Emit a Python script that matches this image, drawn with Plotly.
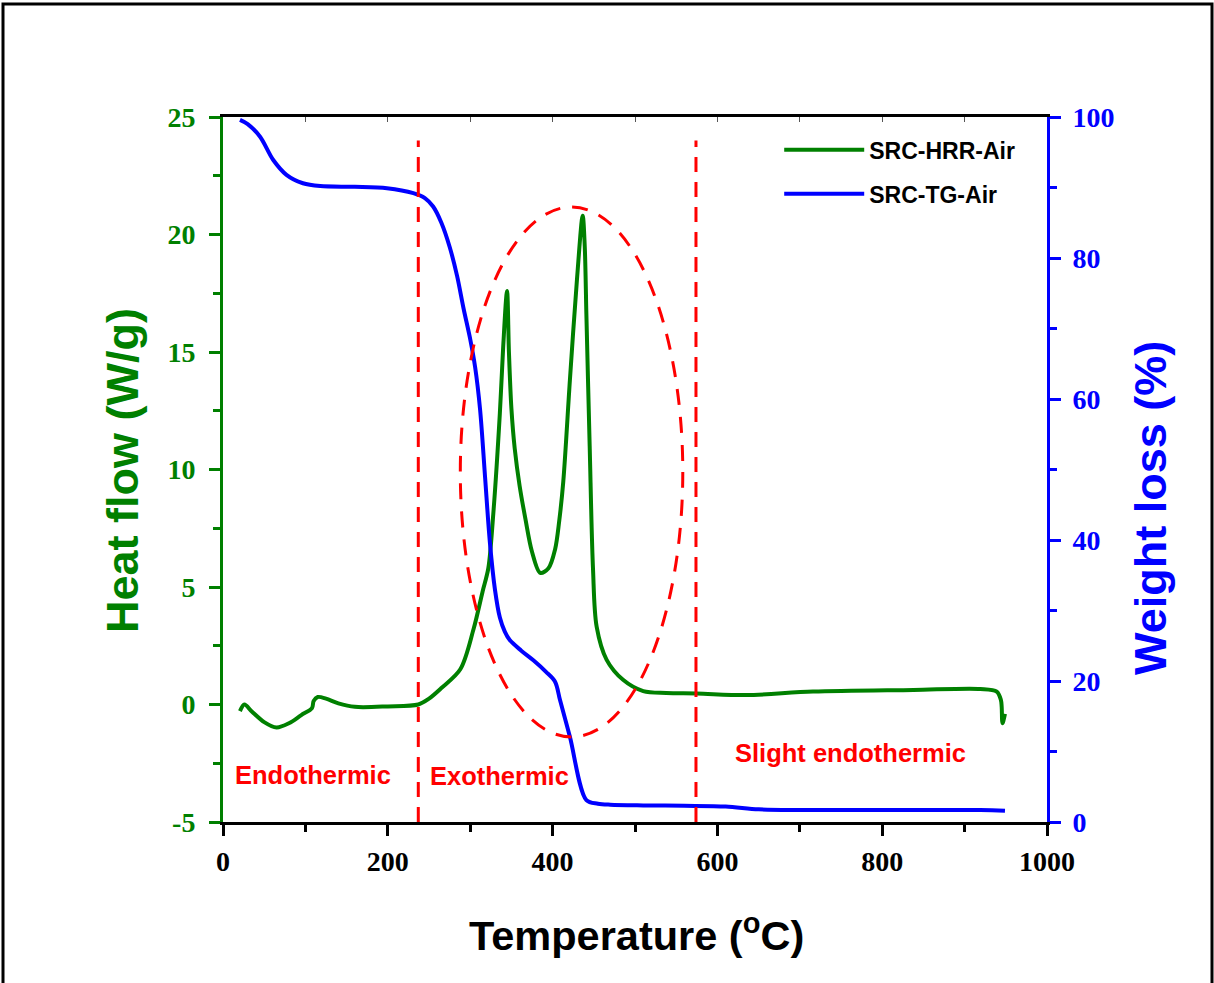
import plotly.graph_objects as go

# ---- data ----
temp_hrr = [20.6, 26, 35, 50, 65, 80, 95, 108, 110, 115, 125, 140, 160, 200, 237, 250, 265,
            288, 304, 315, 322, 328, 336, 340, 344.7, 347, 350, 354, 360, 367, 375, 385, 395,
            403, 408, 413, 421, 429.6, 436.5, 439, 441, 445, 449, 453.5, 465.6, 485.5, 510, 538,
            575, 635, 716, 838, 919, 939, 944, 945, 946, 949]
heat_flow = [-0.28, 0.0, -0.3, -0.75, -0.98, -0.8, -0.45, -0.15, 0.15, 0.32, 0.25, 0.05, -0.1,
             -0.08, 0.0, 0.25, 0.7, 1.5, 3.2, 4.8, 5.8, 8.1, 12.4, 15.2, 17.6, 15.0, 12.6,
             10.9, 9.3, 7.9, 6.5, 5.6, 5.8, 6.6, 7.8, 9.5, 13.8, 18.1, 20.8, 19.5, 16.6, 11.0,
             5.8, 3.3, 1.9, 1.05, 0.57, 0.49, 0.47, 0.40, 0.55, 0.62, 0.66, 0.55, 0.2, -0.1,
             -0.8, -0.4]

temp_tg = [20.6, 30, 45, 61, 77, 97, 118, 160, 199, 231, 245, 255, 265, 275, 284, 292, 300,
           306, 312, 318, 324, 330, 336, 342, 348, 362, 377, 392, 403, 409, 421, 441, 455, 470,
           510, 560, 610, 650, 700, 919, 949]
weight = [99.6, 99.0, 97.2, 93.9, 91.8, 90.6, 90.2, 90.1, 89.9, 89.2, 88.5, 87.3, 85.0, 81.6,
          77.5, 72.8, 68.5, 64.5, 58.5, 49.0, 39.5, 33.0, 29.0, 27.0, 25.8, 24.3, 22.9, 21.3,
          19.9, 17.3, 12.1, 3.1, 2.6, 2.45, 2.35, 2.3, 2.2, 1.8, 1.7, 1.7, 1.6]

region_bounds = [237, 574]
region_labels = ["Endothermic", "Exothermic", "Slight endothermic"]
region_label_pos = [(109, -3.0), (336, -3.05), (762, -2.05)]
ellipse_box = (288, 558, -1.38, 21.17)

x_ticks = [0, 200, 400, 600, 800, 1000]
y_ticks = [-5, 0, 5, 10, 15, 20, 25]
y2_ticks = [0, 20, 40, 60, 80, 100]

GREEN = "#008000"
BLUE = "#0000FF"
RED = "#FF0000"
SANS = "Liberation Sans"
SERIF = "Liberation Serif"

fig = go.Figure()
fig.add_trace(go.Scatter(x=temp_hrr, y=heat_flow, mode="lines", name="SRC-HRR-Air",
                         legendgroup="hrr",
                         line=dict(color=GREEN, width=4, shape="spline", smoothing=0.9),
                         xaxis="x", yaxis="y"))
fig.add_trace(go.Scatter(x=temp_tg, y=weight, mode="lines", name="SRC-TG-Air",
                         legendgroup="tg",
                         line=dict(color=BLUE, width=4, shape="spline", smoothing=0.9),
                         xaxis="x", yaxis="y2"))
# invisible trace to create the top mirror axis
fig.add_trace(go.Scatter(x=[None], y=[None], xaxis="x2", yaxis="y", showlegend=False,
                         hoverinfo="skip"))

tickfont_bold = lambda c: dict(family=SERIF, size=28, color=c, weight="bold")

fig.update_layout(
    width=1214, height=983,
    margin=dict(l=223, r=167, t=117, b=161),
    paper_bgcolor="white", plot_bgcolor="white",
    showlegend=True,
    legend=dict(x=0.675, y=0.984, xanchor="left", yanchor="top",
                bgcolor="rgba(0,0,0,0)", borderwidth=0, traceorder="grouped",
                font=dict(family=SANS, size=23, color="black", weight="bold"),
                itemwidth=80, tracegroupgap=11),
    xaxis=dict(range=[0, 1000], tickvals=x_ticks, ticktext=[str(v) for v in x_ticks],
               showgrid=False, zeroline=False, showline=True, linecolor="black", linewidth=3,
               ticks="outside", ticklen=11, tickwidth=3, tickcolor="black",
               minor=dict(dtick=100, tick0=0, ticks="outside", ticklen=7, tickwidth=3,
                          tickcolor="black", showgrid=False),
               tickfont=tickfont_bold("black"), ticklabelstandoff=1),
    xaxis2=dict(range=[0, 1000], overlaying="x", side="top", showticklabels=False,
                showgrid=False, zeroline=False, showline=True, linecolor="black", linewidth=3,
                ticks="inside", dtick=100, tick0=0, ticklen=5, tickwidth=1, tickcolor="#555"),
    yaxis=dict(range=[-5, 25], tickvals=y_ticks, ticktext=[str(v) for v in y_ticks],
               showgrid=False, zeroline=False, showline=True, linecolor=GREEN, linewidth=3,
               ticks="outside", ticklen=11, tickwidth=3, tickcolor=GREEN,
               minor=dict(dtick=2.5, tick0=0, ticks="outside", ticklen=7, tickwidth=3,
                          tickcolor=GREEN, showgrid=False),
               tickfont=tickfont_bold(GREEN), ticklabelstandoff=8),
    yaxis2=dict(range=[0, 100], overlaying="y", side="right", tickvals=y2_ticks,
                ticktext=[str(v) for v in y2_ticks],
                showgrid=False, zeroline=False, showline=True, linecolor=BLUE, linewidth=3,
                ticks="outside", ticklen=11, tickwidth=3, tickcolor=BLUE,
                minor=dict(dtick=10, tick0=0, ticks="outside", ticklen=7, tickwidth=3,
                           tickcolor=BLUE, showgrid=False),
                tickfont=tickfont_bold(BLUE), ticklabelstandoff=6),
)

shapes = []
for xb in region_bounds:
    shapes.append(dict(type="line", xref="x", yref="y", x0=xb, x1=xb, y0=-5, y1=24,
                       line=dict(color=RED, width=3, dash="15px,10px")))
x0, x1, y0, y1 = ellipse_box
shapes.append(dict(type="circle", xref="x", yref="y", x0=x0, x1=x1, y0=y0, y1=y1,
                   line=dict(color=RED, width=3, dash="16px,12px")))
# outer frame around the figure
shapes.append(dict(type="rect", xref="paper", yref="paper",
                   x0=(3 - 223) / 824, x1=(1212 - 223) / 824,
                   y0=(822 - 990) / 705, y1=(822 - 4) / 705,
                   line=dict(color="black", width=3), layer="below"))
fig.update_layout(shapes=shapes)

annotations = []
for lab, (ax, ay) in zip(region_labels, region_label_pos):
    annotations.append(dict(x=ax, y=ay, xref="x", yref="y", text=lab, showarrow=False,
                            xanchor="center", yanchor="middle",
                            font=dict(family=SANS, size=25.5, color=RED, weight="bold")))
annotations.append(dict(x=(122 - 223) / 824, y=(822 - 471) / 705, xref="paper", yref="paper",
                        text="Heat flow (W/g)", textangle=-90, showarrow=False,
                        xanchor="center", yanchor="middle",
                        font=dict(family=SANS, size=45, color=GREEN, weight="bold")))
annotations.append(dict(x=(1150 - 223) / 824, y=(822 - 508) / 705, xref="paper", yref="paper",
                        text="Weight loss (%)", textangle=-90, showarrow=False,
                        xanchor="center", yanchor="middle",
                        font=dict(family=SANS, size=45, color=BLUE, weight="bold")))
annotations.append(dict(x=(636 - 223) / 824, y=(822 - 933) / 705, xref="paper", yref="paper",
                        text="Temperature (<sup>o</sup>C)", showarrow=False,
                        xanchor="center", yanchor="middle",
                        font=dict(family=SANS, size=41.5, color="black", weight="bold")))
fig.update_layout(annotations=annotations)

fig.write_html("out.html")
